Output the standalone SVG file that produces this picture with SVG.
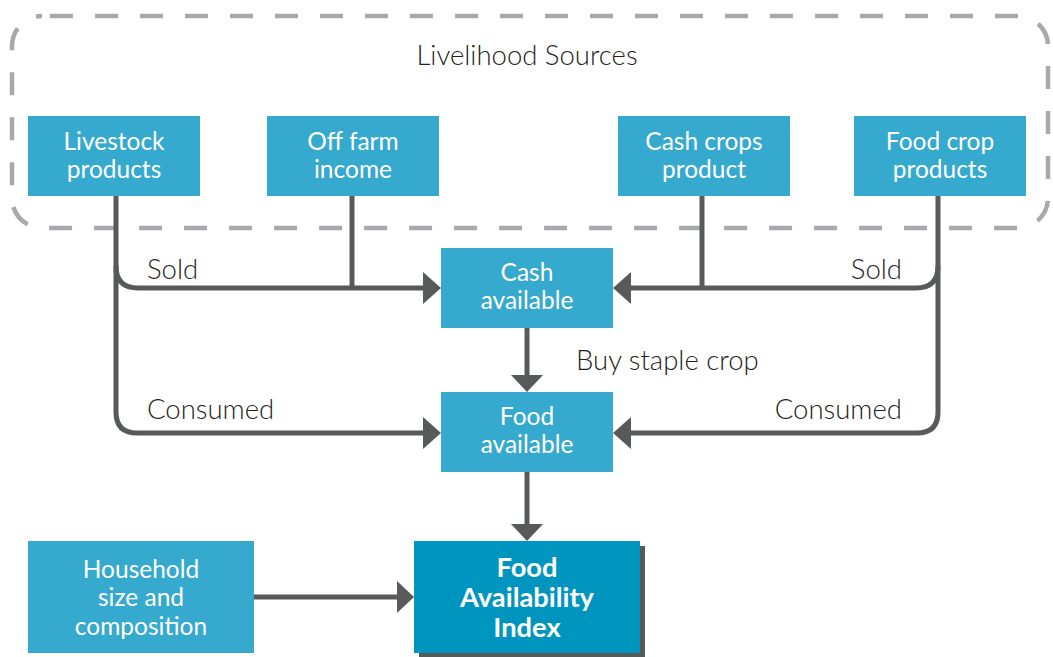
<svg xmlns="http://www.w3.org/2000/svg" width="1053" height="657" viewBox="0 0 1053 657">
<defs>
<style>
.box{fill:#36A9CE}
.bt{font-family:Lato,"Liberation Sans",sans-serif;font-size:24.5px;fill:#fff;text-anchor:middle}
.ix{font-family:Lato,"Liberation Sans",sans-serif;font-size:27.3px;font-weight:bold;fill:#fff;text-anchor:middle}
.lbl{font-family:Lato,"Liberation Sans",sans-serif;font-weight:300;font-size:27.5px;fill:#231F20}
.ln{fill:none;stroke:#58595B;stroke-width:5}
.ah{fill:#58595B}
</style>
</defs>
<rect width="1053" height="657" fill="#fff"/>
<g id="livelihood-sources">
<rect x="12" y="16" width="1036" height="212" rx="30" ry="30" fill="none" stroke="#A7A9AC" stroke-width="4.5" stroke-dasharray="23 22" stroke-dashoffset="-8"/>
<text class="lbl" x="527" y="65" text-anchor="middle" font-size="28.5">Livelihood Sources</text>
</g>
<g id="connectors">
<path class="ln" d="M116,195 V412 Q116,433 137,433 H423"/>
<path class="ln" d="M116,266 Q116,288 138,288 H423"/>
<path class="ln" d="M352,195 V288"/>
<path class="ln" d="M938,195 V412 Q938,433 917,433 H631"/>
<path class="ln" d="M938,266 Q938,288 916,288 H631"/>
<path class="ln" d="M702,195 V288"/>
<path class="ln" d="M527,328 V376"/>
<path class="ln" d="M527,472 V524"/>
<path class="ln" d="M254,597 H397"/>
<path class="ah" d="M423,272 L441,288 L423,304 Z"/>
<path class="ah" d="M423,417 L441,433 L423,449 Z"/>
<path class="ah" d="M631,272 L613,288 L631,304 Z"/>
<path class="ah" d="M631,417 L613,433 L631,449 Z"/>
<path class="ah" d="M511,375 L527,392 L543,375 Z"/>
<path class="ah" d="M511,524 L527,541 L543,524 Z"/>
<path class="ah" d="M397,581 L414,597 L397,613 Z"/>
<text class="lbl" x="147" y="279">Sold</text>
<text class="lbl" x="902" y="279" text-anchor="end">Sold</text>
<text class="lbl" x="147" y="419">Consumed</text>
<text class="lbl" x="902" y="419" text-anchor="end">Consumed</text>
<text class="lbl" x="576" y="370">Buy staple crop</text>
</g>
<g id="livestock">
<rect class="box" x="28" y="116" width="172" height="80"/>
<text class="bt" x="114" y="150">Livestock</text>
<text class="bt" x="114" y="178">products</text>
</g>
<g id="off-farm">
<rect class="box" x="267" y="116" width="172" height="80"/>
<text class="bt" x="353" y="150">Off farm</text>
<text class="bt" x="353" y="178">income</text>
</g>
<g id="cash-crops">
<rect class="box" x="618" y="116" width="172" height="80"/>
<text class="bt" x="704" y="150">Cash crops</text>
<text class="bt" x="704" y="178">product</text>
</g>
<g id="food-crop">
<rect class="box" x="854" y="116" width="172" height="80"/>
<text class="bt" x="940" y="150">Food crop</text>
<text class="bt" x="940" y="178">products</text>
</g>
<g id="cash-available">
<rect class="box" x="441" y="248" width="172" height="80"/>
<text class="bt" x="527" y="281">Cash</text>
<text class="bt" x="527" y="309">available</text>
</g>
<g id="food-available">
<rect class="box" x="441" y="392" width="172" height="80"/>
<text class="bt" x="527" y="425">Food</text>
<text class="bt" x="527" y="453">available</text>
</g>
<g id="household">
<rect class="box" x="28" y="541" width="226" height="112"/>
<text class="bt" x="141" y="578">Household</text>
<text class="bt" x="141" y="606">size and</text>
<text class="bt" x="141" y="635">composition</text>
</g>
<g id="food-availability-index">
<rect x="419" y="546" width="226" height="111" fill="#58595B"/>
<rect x="414" y="541" width="226" height="112" fill="#0095BE"/>
<text class="ix" x="527" y="577">Food</text>
<text class="ix" x="527" y="607">Availability</text>
<text class="ix" x="527" y="637">Index</text>
</g>
</svg>
